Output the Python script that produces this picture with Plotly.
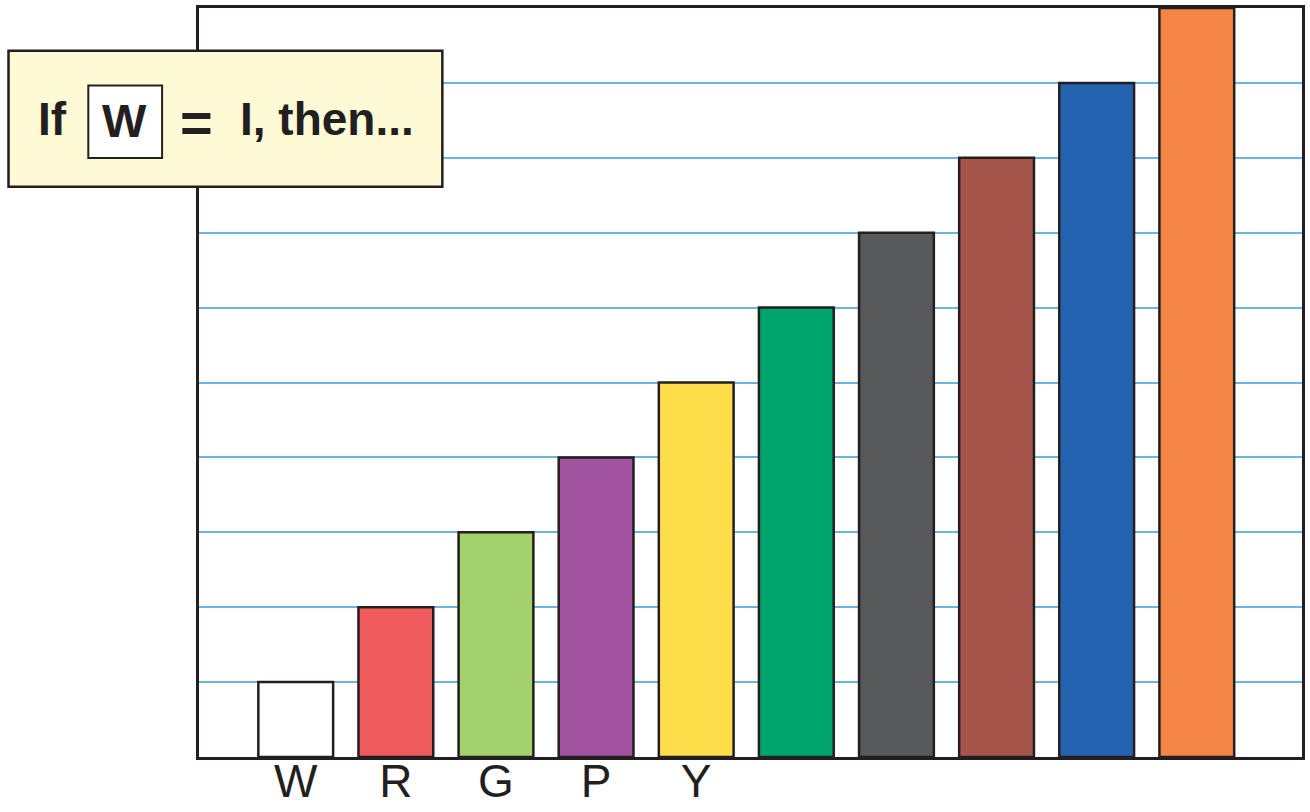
import plotly.graph_objects as go

categories = ["W", "R", "G", "P", "Y", "K", "S", "N", "B", "O"]
tick_labels = ["W", "R", "G", "P", "Y", "", "", "", "", ""]
values = [1, 2, 3, 4, 5, 6, 7, 8, 9, 10]
colors = ["#FFFFFF", "#EF5A5D", "#A3D16E", "#A0529F", "#FEDD4A",
          "#00A56E", "#58595B", "#A6554A", "#2262AF", "#F58546"]

W, H = 1310, 812
ML, MR, MT, MB = 199, 5, 5, 53
PW, PH = W - ML - MR, H - MT - MB
SLOT = 100.39          # pixel distance between bar centres in the reference
FIRST = 296            # pixel x of the first bar centre


def px(x):
    return (x - ML) / PW


def py(y):
    return (H - MB - y) / PH


fig = go.Figure()
fig.add_trace(go.Bar(
    x=list(range(len(categories))),
    y=values,
    width=0.747,
    marker=dict(color=colors, line=dict(color="#231F20", width=2.5)),
    hoverinfo="skip",
))

dark = "#231F20"
fig.update_layout(
    width=W, height=H,
    margin=dict(l=ML, r=MR, t=MT, b=MB, pad=0),
    paper_bgcolor="white",
    plot_bgcolor="white",
    showlegend=False,
    xaxis=dict(
        range=[-(FIRST - ML) / SLOT, (W - MR - FIRST) / SLOT],
        tickvals=list(range(len(categories))),
        ticktext=tick_labels,
        tickfont=dict(family="Liberation Sans", size=46, color=dark),
        ticklabelstandoff=-18,
        showgrid=False, zeroline=False,
        showline=True, linecolor=dark, linewidth=3, mirror=True,
        ticks="",
        fixedrange=True,
    ),
    yaxis=dict(
        range=[0, 10],
        dtick=1,
        showticklabels=False,
        showgrid=True, gridcolor="#6BB5E5", gridwidth=1.5,
        zeroline=False,
        showline=True, linecolor=dark, linewidth=3, mirror=True,
        ticks="",
        fixedrange=True,
    ),
)

# legend box "If [W] = I, then..."
fig.add_shape(type="rect", xref="paper", yref="paper",
              x0=px(8), x1=px(443), y0=py(185), y1=py(48),
              fillcolor="#FFFAD6", line=dict(color=dark, width=2.5), layer="above")
fig.add_shape(type="rect", xref="paper", yref="paper",
              x0=px(88), x1=px(162), y0=py(156), y1=py(83),
              fillcolor="white", line=dict(color=dark, width=2), layer="above")

font_b = dict(family="Liberation Sans", size=46, color=dark, weight="bold")
font_w = dict(family="Liberation Sans", size=47, color=dark, weight="bold")
font_eq = dict(family="Liberation Sans", size=56, color=dark, weight="bold")
yc = py(117)
fig.add_annotation(text="<b>If</b>", xref="paper", yref="paper", x=px(36), y=yc,
                   xanchor="left", yanchor="middle", showarrow=False, font=font_b)
fig.add_annotation(text="<b>W</b>", xref="paper", yref="paper", x=px(124), y=py(118),
                   xanchor="center", yanchor="middle", showarrow=False, font=font_w)
fig.add_annotation(text="<b>=</b>", xref="paper", yref="paper", x=px(196), y=py(120),
                   xanchor="center", yanchor="middle", showarrow=False, font=font_eq)
fig.add_annotation(text="<b>I, then...</b>", xref="paper", yref="paper", x=px(238), y=yc,
                   xanchor="left", yanchor="middle", showarrow=False, font=font_b)

post = (
    "document.documentElement.style.margin='0';"
    "document.body.style.margin='0';"
    "document.body.style.overflow='hidden';"
)
fig.write_html("out.html", config={"displayModeBar": False}, post_script=post)
